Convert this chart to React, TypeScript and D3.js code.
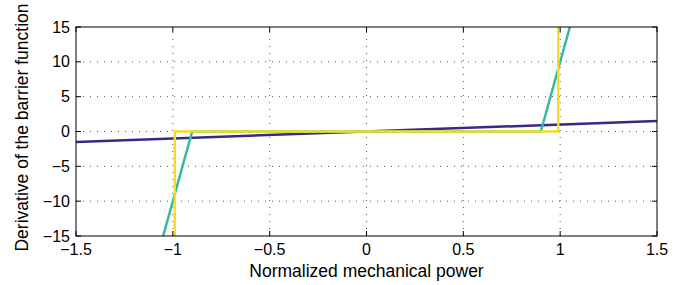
import React from 'react';
import * as d3 from 'd3';

// tick values
const xTicks = [-1.5, -1, -0.5, 0, 0.5, 1, 1.5];
const yTicks = [-15, -10, -5, 0, 5, 10, 15];

// series (x, y)
const linearX = [-1.5, 1.5];
const linearY = [-1.5, 1.5];
const steepX = [-1.5, -0.9, 0.9, 1.5];
const steepY = [-60, 0, 0, 60];
const barrierX = [-0.99, -0.99, 0.99, 0.99];
const barrierY = [-20, 0, 0, 20];

const W = 698;
const H = 285;
const margin = { left: 76, top: 27, right: 41, bottom: 49 };
const FONT = 'Liberation Sans, Arial, Helvetica, sans-serif';

const fmt = (v: number) => String(v).replace('-', '\u2212');

const App = () => {
  const x = d3.scaleLinear().domain([-1.5, 1.5]).range([margin.left, W - margin.right]);
  const y = d3.scaleLinear().domain([-15, 15]).range([H - margin.bottom, margin.top]);
  const [x0, x1] = x.range();
  const [y0, y1] = y.range();

  const line = d3
    .line<[number, number]>()
    .x((d) => x(d[0]))
    .y((d) => y(d[1]));
  const pts = (xs: number[], ys: number[]) => xs.map((v, i) => [v, ys[i]] as [number, number]);

  const series = [
    { xs: linearX, ys: linearY, color: '#352a87' },
    { xs: steepX, ys: steepY, color: '#36b99e' },
    { xs: barrierX, ys: barrierY, color: '#f6dc25' },
  ];

  return (
    <svg
      width={W}
      height={H}
      style={{ position: 'absolute', left: 0, top: 0, background: '#fff' }}
      fontFamily={FONT}
    >
      <defs>
        <clipPath id="plot">
          <rect x={x0} y={y1} width={x1 - x0} height={y0 - y1} />
        </clipPath>
      </defs>

      {/* grid */}
      <g stroke="#555" strokeWidth={1} strokeDasharray="1,6">
        {xTicks.slice(1, -1).map((t) => (
          <line key={'gx' + t} x1={x(t)} x2={x(t)} y1={y0} y2={y1} />
        ))}
        {yTicks.slice(1, -1).map((t) => (
          <line key={'gy' + t} x1={x0} x2={x1} y1={y(t)} y2={y(t)} />
        ))}
      </g>

      {/* lines */}
      <g clipPath="url(#plot)" fill="none" strokeWidth={2.5}>
        {series.map((s, i) => (
          <path key={i} d={line(pts(s.xs, s.ys)) || ''} stroke={s.color} />
        ))}
      </g>

      {/* box and ticks */}
      <g stroke="#000" strokeWidth={1}>
        <rect x={x0} y={y1} width={x1 - x0} height={y0 - y1} fill="none" />
        {xTicks.map((t) => (
          <g key={'tx' + t}>
            <line x1={x(t)} x2={x(t)} y1={y0} y2={y0 - 5} />
            <line x1={x(t)} x2={x(t)} y1={y1} y2={y1 + 5} />
          </g>
        ))}
        {yTicks.map((t) => (
          <g key={'ty' + t}>
            <line x1={x0} x2={x0 + 5} y1={y(t)} y2={y(t)} />
            <line x1={x1} x2={x1 - 5} y1={y(t)} y2={y(t)} />
          </g>
        ))}
      </g>

      {/* tick labels */}
      <g fontSize={16} fill="#000">
        {xTicks.map((t) => (
          <text key={'lx' + t} x={x(t)} y={y0 + 19} textAnchor="middle">
            {fmt(t)}
          </text>
        ))}
        {yTicks.map((t) => (
          <text key={'ly' + t} x={x0 - 6} y={y(t) + 5.5} textAnchor="end">
            {fmt(t)}
          </text>
        ))}
      </g>

      {/* axis labels */}
      <text x={(x0 + x1) / 2} y={H - 8} textAnchor="middle" fontSize={17.5}>
        Normalized mechanical power
      </text>
      <text
        transform={`translate(28,${(y0 + y1) / 2 - 4}) rotate(-90)`}
        textAnchor="middle"
        fontSize={17.5}
      >
        Derivative of the barrier function
      </text>
    </svg>
  );
};

export default App;
